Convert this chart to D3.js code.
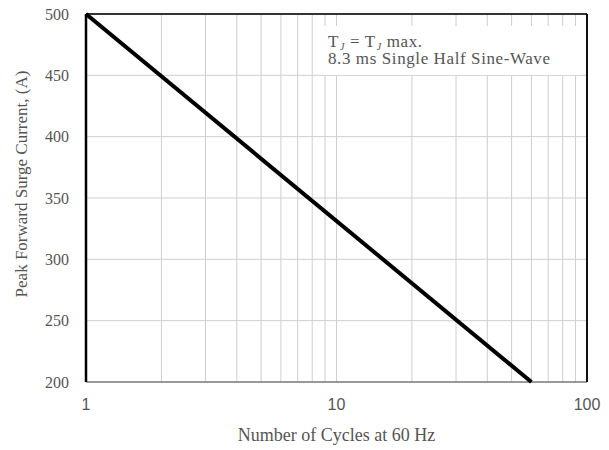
<!DOCTYPE html>
<html>
<head>
<meta charset="utf-8">
<script src="https://cdn.jsdelivr.net/npm/d3@7"></script>
<style>
  body { margin: 0; background: #fff; }
  svg { display: block; }
  text { font-family: "Liberation Serif", "Times New Roman", serif; fill: #555; }
</style>
</head>
<body>
<svg id="chart"></svg>
<script>
// Chart size
const width = 609;
const height = 450;

// Surge curve: cycles vs peak current
const cycles = [1, 60];
const current = [500, 200];

// Axis ticks
const xTicks = [1, 10, 100];
const xMinor = [2, 3, 4, 5, 6, 7, 8, 9, 20, 30, 40, 50, 60, 70, 80, 90];
const yTicks = [200, 250, 300, 350, 400, 450, 500];

const margin = { left: 86, right: 22, top: 14, bottom: 68 };

const svg = d3.select("#chart")
    .attr("width", width)
    .attr("height", height);

const x = d3.scaleLog()
    .domain([1, 100])
    .range([margin.left, width - margin.right]);

const y = d3.scaleLinear()
    .domain([200, 500])
    .range([height - margin.bottom, margin.top]);

// grid lines
svg.selectAll("line.vgrid")
    .data(xMinor.concat([10]))
    .enter()
    .append("line")
    .attr("class", "vgrid")
    .attr("x1", d => x(d)).attr("x2", d => x(d))
    .attr("y1", y(500)).attr("y2", y(200))
    .attr("stroke", "#cfcfcf")
    .attr("stroke-width", 1);

svg.selectAll("line.hgrid")
    .data(yTicks.slice(1, -1))
    .enter()
    .append("line")
    .attr("class", "hgrid")
    .attr("x1", x(1)).attr("x2", x(100))
    .attr("y1", d => y(d)).attr("y2", d => y(d))
    .attr("stroke", "#cfcfcf")
    .attr("stroke-width", 1);

// white box behind the note
svg.append("rect")
    .attr("x", 324)
    .attr("y", 26)
    .attr("width", 258)
    .attr("height", 49)
    .attr("fill", "#fff");

// frame
svg.append("line")
    .attr("x1", x(1)).attr("x2", x(100))
    .attr("y1", y(500)).attr("y2", y(500))
    .attr("stroke", "#333").attr("stroke-width", 2);
svg.append("line")
    .attr("x1", x(1)).attr("x2", x(100))
    .attr("y1", y(200)).attr("y2", y(200))
    .attr("stroke", "#777").attr("stroke-width", 1.5);
svg.append("line")
    .attr("x1", x(1)).attr("x2", x(1))
    .attr("y1", y(500)).attr("y2", y(200))
    .attr("stroke", "#000").attr("stroke-width", 2.5);
svg.append("line")
    .attr("x1", x(100)).attr("x2", x(100))
    .attr("y1", y(500)).attr("y2", y(200))
    .attr("stroke", "#111").attr("stroke-width", 2);

// the curve
const line = d3.line()
    .x(d => x(d[0]))
    .y(d => y(d[1]));

svg.append("path")
    .datum(d3.zip(cycles, current))
    .attr("d", line)
    .attr("fill", "none")
    .attr("stroke", "#000")
    .attr("stroke-width", 4);

// y tick labels
svg.selectAll("text.ytick")
    .data(yTicks)
    .enter()
    .append("text")
    .attr("class", "ytick")
    .attr("x", 69)
    .attr("y", d => y(d))
    .attr("dy", "0.35em")
    .attr("text-anchor", "end")
    .style("font-size", "16px")
    .text(d => d);

// x tick labels
svg.selectAll("text.xtick")
    .data(xTicks)
    .enter()
    .append("text")
    .attr("class", "xtick")
    .attr("x", d => x(d))
    .attr("y", 410)
    .attr("text-anchor", "middle")
    .style("font-family", "'Liberation Sans', Arial, sans-serif")
    .style("font-size", "16px")
    .text(d => d);

// axis titles
svg.append("text")
    .attr("x", x(10))
    .attr("y", 441)
    .attr("text-anchor", "middle")
    .style("font-size", "18px")
    .text("Number of Cycles at 60 Hz");

svg.append("text")
    .attr("transform", "translate(27,184) rotate(-90)")
    .attr("text-anchor", "middle")
    .style("font-size", "17px")
    .text("Peak Forward Surge Current, (A)");

// note
const note = svg.append("text")
    .attr("x", 328)
    .attr("y", 47)
    .attr("textLength", 94)
    .attr("lengthAdjust", "spacing")
    .style("font-size", "17px");
note.append("tspan").text("T");
note.append("tspan").attr("dx", 1).attr("dy", 3).style("font-size", "10px").style("font-style", "italic").text("J");
note.append("tspan").attr("dy", -3).text(" = T");
note.append("tspan").attr("dx", 1).attr("dy", 3).style("font-size", "10px").style("font-style", "italic").text("J");
note.append("tspan").attr("dy", -3).text(" max.");

svg.append("text")
    .attr("x", 328)
    .attr("y", 64)
    .attr("textLength", 222)
    .attr("lengthAdjust", "spacing")
    .style("font-size", "17px")
    .text("8.3 ms Single Half Sine-Wave");
</script>
</body>
</html>
